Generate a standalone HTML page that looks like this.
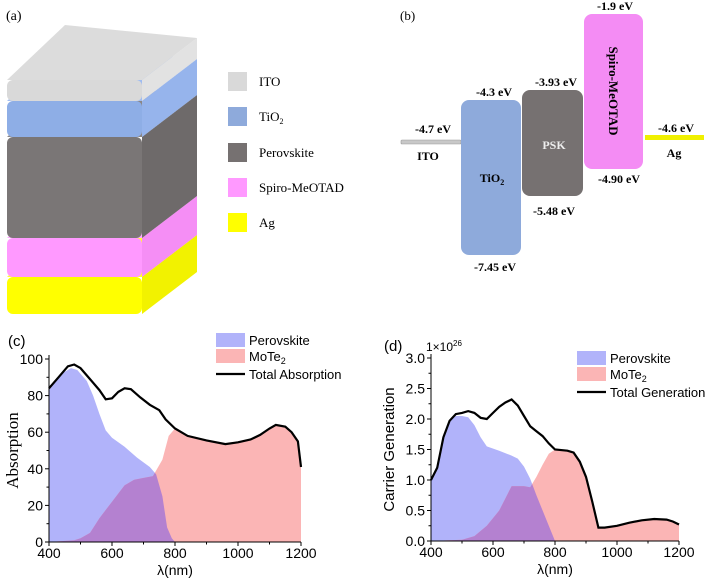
<!DOCTYPE html>
<html><head><meta charset="utf-8"><style>
body{margin:0;background:#fff}
svg{display:block}
.s{font-family:"Liberation Sans",sans-serif}
.r{font-family:"Liberation Serif",serif}
</style></head><body>
<svg id="fig" width="708" height="580" viewBox="0 0 708 580" xmlns="http://www.w3.org/2000/svg">
<defs></defs>
<g id="pa">
<text x="6" y="20" class="r" font-size="14">(a)</text>
</g>
<g id="pb" class="r" font-weight="bold" font-size="12">
<text x="400" y="20" font-weight="normal" font-size="13">(b)</text>
<rect x="401" y="140" width="60" height="4" rx="1" fill="#c8c8c8" stroke="#999" stroke-width="0.6"/>
<rect x="645" y="135" width="59" height="5" fill="#f0f000"/>
<rect x="461" y="100" width="60" height="155" rx="8" fill="#8eaadb"/>
<rect x="522" y="90" width="61" height="106" rx="8" fill="#767171"/>
<rect x="584" y="14" width="59" height="155" rx="8" fill="#f48cf4"/>
<text x="615" y="10" text-anchor="middle">-1.9 eV</text>
<text x="556" y="86" text-anchor="middle">-3.93 eV</text>
<text x="494" y="96" text-anchor="middle">-4.3 eV</text>
<text x="433" y="133" text-anchor="middle">-4.7 eV</text>
<text x="428" y="160" text-anchor="middle">ITO</text>
<text x="492" y="182" text-anchor="middle">TiO<tspan font-size="8" dy="3">2</tspan></text>
<text x="554" y="149" text-anchor="middle" fill="#eee">PSK</text>
<text x="676" y="132" text-anchor="middle">-4.6 eV</text>
<text x="674" y="157" text-anchor="middle">Ag</text>
<text x="619" y="183" text-anchor="middle">-4.90 eV</text>
<text x="554" y="215" text-anchor="middle">-5.48 eV</text>
<text x="495" y="271" text-anchor="middle">-7.45 eV</text>
<text transform="translate(609,91) rotate(90)" text-anchor="middle" font-size="13">Spiro-MeOTAD</text>
</g>
<g id="pc" class="s"></g>
<g id="pd" class="s"></g>
</svg>
<script>
// ---- Panel c data ----
const absTotalX=[400,430,460,480,500,530,560,580,600,620,640,660,690,720,750,770,800,840,900,960,1000,1040,1070,1100,1120,1150,1170,1190,1200];
const absTotalY=[84,90,96,97,95,89,83,78,78.5,82,84,83.5,79,75,72,67,62,58,55.5,53.5,54.5,56,58.5,62,64,63,60,55,41];
const absPerovX=[400,440,470,490,520,540,560,580,600,640,680,720,740,760,775,790,800];
const absPerovY=[85,92,95,94,88,80,70,61,57,52,46,41,37,25,8,2,0];
const absMoX=[400,480,500,530,560,600,640,670,700,730,760,780,800,840,900,960,1000,1040,1070,1100,1120,1150,1170,1190,1200];
const absMoY=[0,1,2,5,13,22,31,34,35,36,45,58,62,58,55.5,53.5,54.5,56,58.5,62,64,63,60,55,41];
const absYTicks=[0,20,40,60,80,100];
const xTicks=[400,600,800,1000,1200];
// ---- Panel d data (x1e26) ----
const genTotalX=[400,420,440,460,480,500,520,540,560,580,600,620,640,660,680,700,720,740,760,780,800,840,860,880,900,920,940,960,1000,1040,1080,1120,1160,1180,1200];
const genTotalY=[1.0,1.2,1.7,1.97,2.08,2.1,2.13,2.1,2.02,2.0,2.1,2.2,2.27,2.32,2.22,2.05,1.88,1.8,1.72,1.6,1.5,1.48,1.45,1.3,1.05,0.65,0.22,0.22,0.25,0.3,0.34,0.36,0.35,0.32,0.27];
const genPerovX=[400,420,440,460,480,500,520,540,560,580,620,660,680,700,720,740,760,780,800];
const genPerovY=[1.0,1.2,1.7,1.97,2.05,2.05,2.03,1.9,1.7,1.55,1.48,1.4,1.35,1.22,1.02,0.75,0.5,0.25,0];
const genMoX=[400,500,540,580,620,660,700,720,740,760,780,800,840,860,880,900,920,940,960,1000,1040,1080,1120,1160,1180,1200];
const genMoY=[0,0.02,0.08,0.25,0.5,0.9,0.9,0.88,1.05,1.25,1.43,1.5,1.48,1.45,1.3,1.05,0.65,0.22,0.22,0.25,0.3,0.34,0.36,0.35,0.32,0.27];
const genYTicks=[0,0.5,1.0,1.5,2.0,2.5,3.0];

const NS="http://www.w3.org/2000/svg";
function mk(parent,tag,attrs,txt){const e=document.createElementNS(NS,tag);for(const k in attrs)e.setAttribute(k,attrs[k]);if(txt!==undefined)e.textContent=txt;parent.appendChild(e);return e;}

(function(){
  const g=document.getElementById('pa');
  const L=7,R=142,dx=55,dy=-42;
  const layers=[
    {n:'ag',top:277,bot:314,f:'#ffff00',s:'#f2f200',t:'#ffff30'},
    {n:'spiro',top:238,bot:277,f:'#ff99ff',s:'#f58ef5',t:'#ffaaff'},
    {n:'perovskite',top:137,bot:238,f:'#7a7676',s:'#6e6a6a',t:'#8a8686'},
    {n:'tio2',top:101,bot:137,f:'#8eaee6',s:'#96b4ec',t:'#a0bcf0'},
    {n:'ito',top:80,bot:101,f:'#d9d9d9',s:'#e2e2e2',t:'#dcdcdc'}];
  layers.forEach(l=>{
    const side=mk(g,'path',{d:`M${R},${l.top}L${R+dx},${l.top+dy}L${R+dx},${l.bot+dy}L${R},${l.bot}Z`,fill:l.s});
    
    
    const top=mk(g,'path',{d:`M${L},${l.top}L${L+dx+3},${l.top+dy-13}L${R+dx},${l.top+dy}L${R},${l.top}Z`,fill:l.t});
    
    
    const fr=mk(g,'rect',{x:L,y:l.top,width:R-L,height:l.bot-l.top,rx:6,fill:l.f});
    
    
  });
  const leg=[['ITO','#d9d9d9',72],['TiO','#8eaadb',107],['Perovskite','#767171',143],['Spiro-MeOTAD','#ff99ff',178],['Ag','#ffff00',213]];
  leg.forEach(([t,c,y])=>{
    const r=mk(g,'rect',{x:228,y:y,width:19,height:19,fill:c});
    
    
    const tx=mk(g,'text',{x:259,y:y+14,'font-size':13,class:'r'},t);
    
    
    if(t==='TiO'){mk(tx,'tspan',{'font-size':8,dy:3},'2');}
  });
})();

function chart(gid,o){
  const g=document.getElementById(gid);
  const sx=v=>o.x0+(v-400)/800*(o.x1-o.x0);
  const sy=v=>o.y0-(v/o.ymax)*(o.y0-o.y1);
  const path=(X,Y,close)=>{let d=X.map((x,i)=>(i?'L':'M')+sx(x).toFixed(1)+','+sy(Y[i]).toFixed(1)).join('');if(close)d+=`L${sx(X[X.length-1])},${sy(0)}L${sx(X[0])},${sy(0)}Z`;return d;};
  const clipId=gid+'clip';
  const defs=document.querySelector('defs');
  const cp=mk(defs,'clipPath',{id:clipId});
  mk(cp,'path',{d:path(o.pX,o.pY,true)});
  const pa=mk(g,'path',{d:path(o.pX,o.pY,true),fill:'#b1b3fa'});
  
  
  const ma=mk(g,'path',{d:path(o.mX,o.mY,true),fill:'#fbb5b5'});
  
  
  const ov=mk(g,'path',{d:path(o.mX,o.mY,true),fill:'#b481d0','clip-path':`url(#${clipId})`});
  
  
  const tl=mk(g,'path',{d:path(o.tX,o.tY,false),fill:'none',stroke:'#000','stroke-width':2.2});
  
  
  const ax=mk(g,'path',{d:`M${o.x0},${o.y1-4}L${o.x0},${o.y0}L${o.x1},${o.y0}`,fill:'none',stroke:'#000','stroke-width':1});
  
  
  xTicks.forEach((v,i)=>{
    mk(g,'line',{x1:sx(v),x2:sx(v),y1:o.y0,y2:o.y0+4,stroke:'#000'});
    if(i<xTicks.length-1){const m=sx(v+100);mk(g,'line',{x1:m,x2:m,y1:o.y0,y2:o.y0+2.5,stroke:'#000'});}
    const t=mk(g,'text',{x:sx(v),y:o.y0+16,'text-anchor':'middle','font-size':14},String(v));
    
    
  });
  o.yT.forEach((v,i)=>{
    mk(g,'line',{x1:o.x0-4,x2:o.x0,y1:sy(v),y2:sy(v),stroke:'#000'});
    if(i<o.yT.length-1){const m=sy(v+(o.yT[1]-o.yT[0])/2);mk(g,'line',{x1:o.x0-2.5,x2:o.x0,y1:m,y2:m,stroke:'#000'});}
    const t=mk(g,'text',{x:o.x0-6,y:sy(v)+5,'text-anchor':'end','font-size':14},o.fmt(v));
    
    
  });
  const xt=mk(g,'text',{x:(o.x0+o.x1)/2,y:o.y0+33,'text-anchor':'middle','font-size':14},'λ(nm)');
  
  
  const yt=mk(g,'text',{transform:`translate(${o.ytx},${(o.y0+o.y1)/2}) rotate(-90)`,'text-anchor':'middle','font-size':o.ytfs,class:o.ytc},o.ytitle);
  
  
  const pl=mk(g,'text',{x:o.plx,y:o.ply,'font-size':15},o.pl);
  
  
  const lx=o.lx,ly=o.ly;
  const s1=mk(g,'rect',{x:lx,y:ly,width:29,height:14,fill:'#b1b3fa'});
  
  
  const s2=mk(g,'rect',{x:lx,y:ly+16,width:29,height:14,fill:'#fbb5b5'});
  
  
  const s3=mk(g,'line',{x1:lx,x2:lx+29,y1:ly+41,y2:ly+41,stroke:'#000','stroke-width':2.2});
  
  
  const t1=mk(g,'text',{x:lx+33,y:ly+12,'font-size':13},'Perovskite');
  
  
  const t2=mk(g,'text',{x:lx+33,y:ly+28,'font-size':13},'MoTe');
  
  
  mk(t2,'tspan',{'font-size':9,dy:3},'2');
  const t3=mk(g,'text',{x:lx+33,y:ly+46,'font-size':13},o.tname);
  
  
  return {g,sx,sy};
}
chart('pc',{x0:49,x1:301,y0:542,y1:359,ymax:100,yT:absYTicks,fmt:v=>String(v),
  tX:absTotalX,tY:absTotalY,pX:absPerovX,pY:absPerovY,mX:absMoX,mY:absMoY,
  ytitle:'Absorption',ytx:18,ytfs:17,ytc:'r',pl:'(c)',plx:8,ply:346,lx:216,ly:333,tname:'Total Absorption'});
const d=chart('pd',{x0:431,x1:679,y0:541,y1:358,ymax:3,yT:genYTicks,fmt:v=>v.toFixed(1),
  tX:genTotalX,tY:genTotalY,pX:genPerovX,pY:genPerovY,mX:genMoX,mY:genMoY,
  ytitle:'Carrier Generation',ytx:394,ytfs:15,ytc:'s',pl:'(d)',plx:384,ply:351,lx:577,ly:351,tname:'Total Generation'});
const ex=mk(d.g,'text',{x:426,y:351,'font-size':12},'1×10');


mk(ex,'tspan',{'font-size':8,dy:-5},'26');
</script>
</body></html>
